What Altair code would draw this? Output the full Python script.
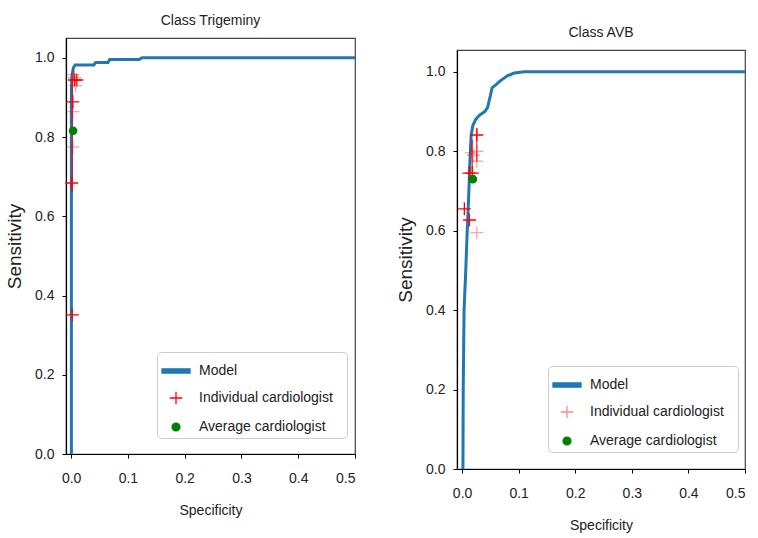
import altair as alt
import pandas as pd

# ---------------- data ----------------
names = ["Model", "Individual cardiologist", "Average cardiologist"]

# Class Trigeminy
trig_fpr = [0.0005, 0.0005, 0.001, 0.002, 0.004, 0.007, 0.040, 0.043, 0.065, 0.068, 0.120, 0.125, 0.5]
trig_tpr = [0.0, 0.900, 0.940, 0.960, 0.975, 0.982, 0.982, 0.988, 0.988, 0.996, 0.996, 1.0, 1.0]
trig_bright_x = [0.006, 0.010, 0.003, 0.001, 0.002]
trig_bright_y = [0.944, 0.944, 0.889, 0.684, 0.351]
trig_faint_x = [0.004, 0.008, 0.003, 0.003, 0.006]
trig_faint_y = [0.957, 0.930, 0.864, 0.775, 0.950]
trig_avg_x = [0.0035]
trig_avg_y = [0.816]
trig_seg_x = [0.002, 0.002]
trig_seg_y = [0.660, 0.950]
trig_seg_id = [0, 0]

# Class AVB
avb_fpr = [0.0015, 0.002, 0.0035, 0.0065, 0.008, 0.010, 0.012, 0.014, 0.016, 0.019, 0.024, 0.030,
           0.040, 0.045, 0.050, 0.053, 0.060, 0.068, 0.080, 0.092, 0.110, 0.5]
avb_tpr = [0.0, 0.200, 0.400, 0.500, 0.560, 0.630, 0.700, 0.780, 0.840, 0.865, 0.880, 0.890,
           0.900, 0.910, 0.940, 0.960, 0.968, 0.978, 0.990, 0.997, 1.0, 1.0]
avb_bright_x = [0.026, 0.018, 0.012, 0.004, 0.013]
avb_bright_y = [0.841, 0.745, 0.745, 0.655, 0.627]
avb_faint_x = [0.026, 0.026, 0.016, 0.020, 0.026]
avb_faint_y = [0.800, 0.775, 0.796, 0.790, 0.595]
avb_avg_x = [0.019]
avb_avg_y = [0.730]
avb_seg_x = [0.026, 0.026, 0.018, 0.018]
avb_seg_y = [0.859, 0.773, 0.829, 0.746]
avb_seg_id = [0, 0, 1, 1]

x_ticks = [0.0, 0.1, 0.2, 0.3, 0.4, 0.5]
y_ticks = [0.0, 0.2, 0.4, 0.6, 0.8, 1.0]

# ---------------- style ----------------
FONT = "Liberation Sans, Arial, sans-serif"
BLUE = "#1f77b4"
RED = "#ff0000"
GREEN = "#008000"
CROSS = "M-1,0H1M0,-1V1"
LEG_MODEL = "M-1,-0.15H1V0.15H-1Z"
LEG_CROSS = "M-0.45,0H0.45M0,-0.45V0.45"
LEG_DOT = "M0.28,0A0.28,0.28,0,1,1,-0.28,0A0.28,0.28,0,1,1,0.28,0Z"


def panel(title, fpr, tpr, bx, by, fx, fy, ax_, ay_, sx, sy, sid, w, h, ymax, cross_col, leg_y):
    xs = alt.Scale(domain=[-0.009, 0.5], nice=False, zero=False)
    ys = alt.Scale(domain=[0, ymax], nice=False, zero=False)
    xaxis = alt.Axis(values=x_ticks, format=".1f", title="Specificity", grid=False,
                     labelFont=FONT, labelFontSize=14, labelPadding=13,
                     titleFont=FONT, titleFontSize=14, titleFontWeight="normal",
                     titlePadding=18, tickSize=4)
    yaxis = alt.Axis(values=y_ticks, format=".1f", title="Sensitivity", grid=False,
                     labelFont=FONT, labelFontSize=14, labelPadding=8,
                     titleFont=FONT, titleFontSize=19, titleFontWeight="normal",
                     titlePadding=10, tickSize=4)

    roc = pd.DataFrame({"x": fpr, "y": tpr, "i": list(range(len(fpr)))})
    line = alt.Chart(roc).mark_line(color=BLUE, strokeWidth=3, clip=True).encode(
        x=alt.X("x:Q", scale=xs, axis=xaxis),
        y=alt.Y("y:Q", scale=ys, axis=yaxis),
        order=alt.Order("i:Q"),
    )
    segs = pd.DataFrame({"x": sx, "y": sy, "g": sid})
    seg = alt.Chart(segs).mark_line(color=RED, strokeWidth=1.2, opacity=0.85).encode(
        x=alt.X("x:Q", scale=xs), y=alt.Y("y:Q", scale=ys), detail="g:N")
    faint = alt.Chart(pd.DataFrame({"x": fx, "y": fy})).mark_point(
        shape=CROSS, size=169, filled=False, color=RED, strokeWidth=1.3, opacity=0.35
    ).encode(x=alt.X("x:Q", scale=xs), y=alt.Y("y:Q", scale=ys))
    bright = alt.Chart(pd.DataFrame({"x": bx, "y": by})).mark_point(
        shape=CROSS, size=169, filled=False, color=RED, strokeWidth=1.3, opacity=1
    ).encode(x=alt.X("x:Q", scale=xs), y=alt.Y("y:Q", scale=ys))
    avg = alt.Chart(pd.DataFrame({"x": ax_, "y": ay_})).mark_point(
        shape="circle", size=75, filled=True, color=GREEN, opacity=1
    ).encode(x=alt.X("x:Q", scale=xs), y=alt.Y("y:Q", scale=ys))

    leg = alt.Legend(orient="none", legendX=91, legendY=leg_y, title=" ",
                     titleOrient="right", titlePadding=10, titleFontSize=14)
    dummy = pd.DataFrame({"x": [-1.0] * 3, "y": [-1.0] * 3, "series": names})
    legend_layer = alt.Chart(dummy).mark_point(clip=True, filled=True, strokeWidth=1.3, opacity=1).encode(
        x=alt.X("x:Q", scale=xs), y=alt.Y("y:Q", scale=ys),
        shape=alt.Shape("series:N", scale=alt.Scale(domain=names, range=[LEG_MODEL, LEG_CROSS, LEG_DOT]), legend=leg),
        fill=alt.Fill("series:N", scale=alt.Scale(domain=names, range=[BLUE, "transparent", GREEN]), legend=leg),
        stroke=alt.Stroke("series:N", scale=alt.Scale(domain=names, range=[BLUE, cross_col, GREEN]), legend=leg),
    )
    return alt.layer(line, seg, faint, bright, avg, legend_layer).properties(
        width=w, height=h, title=title)


left = panel(alt.TitleParams("Class Trigeminy", font=FONT, fontSize=14, fontWeight="normal", offset=10),
             trig_fpr, trig_tpr, trig_bright_x, trig_bright_y, trig_faint_x, trig_faint_y,
             trig_avg_x, trig_avg_y, trig_seg_x, trig_seg_y, trig_seg_id, 289, 416, 1.05, RED, 341)
right = panel(alt.TitleParams("Class AVB", font=FONT, fontSize=14, fontWeight="normal", offset=10),
              avb_fpr, avb_tpr, avb_bright_x, avb_bright_y, avb_faint_x, avb_faint_y,
              avb_avg_x, avb_avg_y, avb_seg_x, avb_seg_y, avb_seg_id, 288, 419, 1.055, "#ff8a8a", 355)

spacer_df = pd.DataFrame({"v": [0]})


def spacer(hgt, wid):
    return alt.Chart(spacer_df).mark_rule(opacity=0).encode(
        x=alt.value(0), x2=alt.value(1), y=alt.value(0)
    ).properties(width=wid, height=hgt, view=alt.ViewBackground(stroke="transparent"))


left_col = alt.vconcat(spacer(1, 289), left, spacing=0)
right_col = alt.vconcat(spacer(13, 288), right, spacing=0)

chart = alt.hconcat(left_col, right_col, spacing=38).resolve_scale(
    x="independent", y="independent", shape="independent", fill="independent", stroke="independent"
).resolve_legend(shape="independent", fill="independent", stroke="independent").properties(
    padding={"left": 4, "top": 10, "right": 5, "bottom": 2}
).configure_view(stroke="#444", strokeWidth=1.2).configure_axis(
    domainColor="#000", tickColor="#000", labelColor="#222", titleColor="#222", domainWidth=1.2
).configure_legend(
    fillColor="white", strokeColor="#cccccc", cornerRadius=4, padding=4,
    labelFont=FONT, labelFontSize=14, labelColor="#222", labelOffset=8, labelLimit=0,
    rowPadding=5, symbolSize=784, symbolStrokeWidth=1.3
).configure_title(color="#222")

chart.save("out.html", embed_options={"renderer": "svg", "actions": False})
